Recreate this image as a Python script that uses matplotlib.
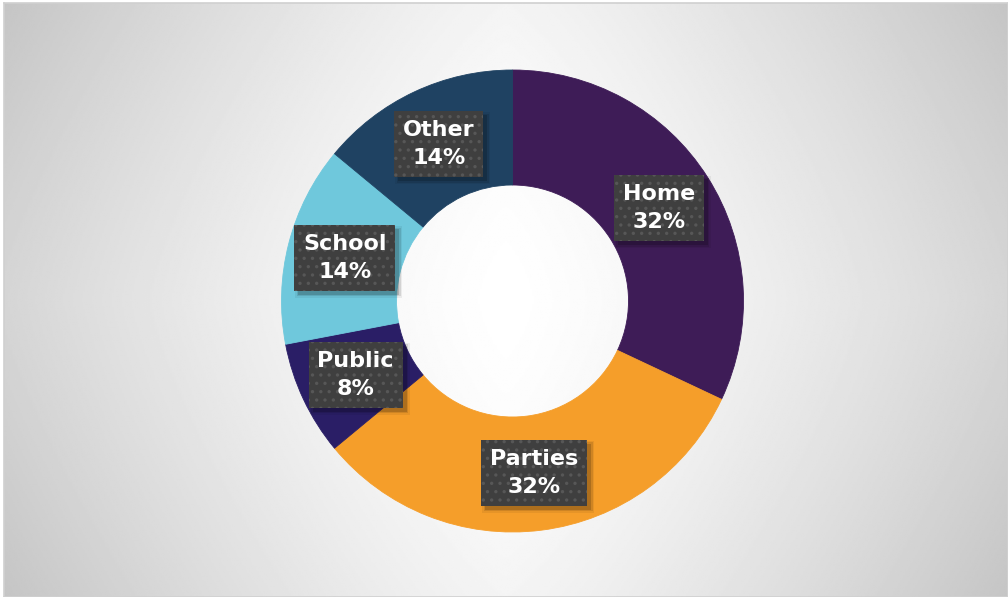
import numpy as np
import matplotlib.pyplot as plt
from matplotlib.patches import Rectangle

categories = ['Home', 'Parties', 'Public', 'School', 'Other']
shares = [32, 32, 8, 14, 14]
colors = ['#3e1c57', '#f59e2a', '#2a1e66', '#6fc8dc', '#1f4262']

plt.rcParams['hatch.linewidth'] = 1.2

fig = plt.figure(figsize=(10.08, 5.97), dpi=100)

# background: white in the middle, fading to grey mostly toward the sides
bg = fig.add_axes([4 / 1008, 0, 1004 / 1008, 594 / 597])
dx, dy = np.meshgrid(np.abs(np.linspace(-1, 1, 600)), np.abs(np.linspace(-1, 1, 360)))
drop = 42 * dx ** 1.3 + 11 * dy ** 1.5 + 5 * dx * dy
shade = np.clip(255 - drop, 0, 255) / 255
bg.imshow(shade, cmap='gray', vmin=0, vmax=1, aspect='auto', extent=(0, 1, 0, 1))
bg.set_xticks([])
bg.set_yticks([])
for s in bg.spines.values():
    s.set_color('#d0d0d0')
    s.set_linewidth(1.2)

# pixel-like coordinates, y measured from the bottom
ax = fig.add_axes([0, 0, 1, 1])

wedges, _, autotexts = ax.pie(
    shares, colors=colors, startangle=90, counterclock=False,
    center=(512.5, 296), radius=231,
    wedgeprops=dict(width=115, linewidth=0.6),
    autopct=lambda p: '', pctdistance=0.75,
)
for w, c in zip(wedges, colors):
    w.set_edgecolor(c)
ax.set_xlim(0, 1008)
ax.set_ylim(0, 597)
ax.set_aspect('auto')
ax.axis('off')

for t, name, val in zip(autotexts, categories, shares):
    t.set_text(f'{name}\n{val}%')
    t.set(color='white', fontsize=16, fontweight='bold', family='DejaVu Sans',
          linespacing=1.5, ha='center', va='center', zorder=4)
    t.set_bbox(dict(boxstyle='square,pad=0.4', facecolor='#3f3f3f',
                    edgecolor='#575757', linewidth=0, hatch='..'))

# drop shadows behind the label boxes, offset down and to the right
fig.canvas.draw()
for t in autotexts:
    box = t.get_bbox_patch().get_window_extent()
    for grow, a in [(3, 0.06), (1.5, 0.1), (0, 0.16)]:
        ax.add_patch(Rectangle((box.x0 + 4 - grow, box.y0 - 4 - grow),
                               box.width + 2 * grow, box.height + 2 * grow,
                               transform=None, facecolor='black', alpha=a,
                               linewidth=0, zorder=3))

fig.savefig('out.png', dpi=100)
